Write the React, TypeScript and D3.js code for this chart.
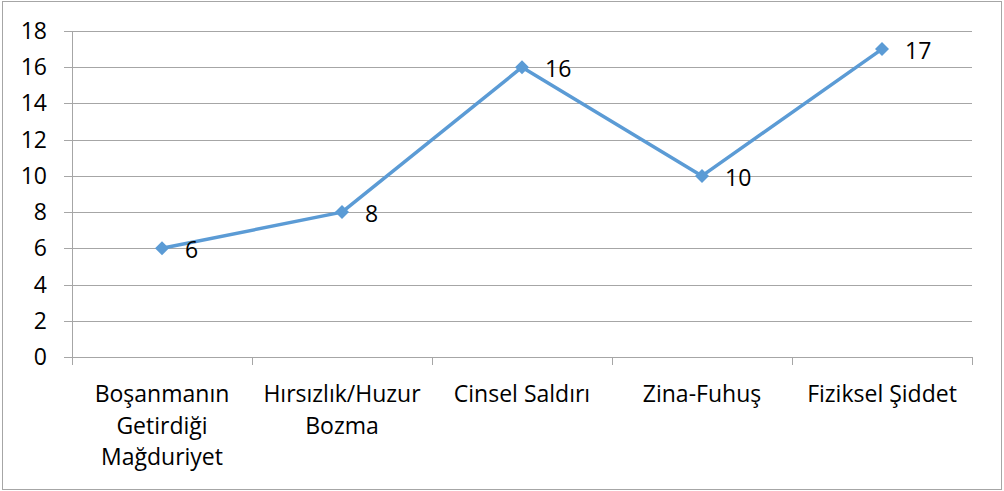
import React from "react";
import * as d3 from "d3";

const categories: string[][] = [
  ["Boşanmanın", "Getirdiği", "Mağduriyet"],
  ["Hırsızlık/Huzur", "Bozma"],
  ["Cinsel Saldırı"],
  ["Zina-Fuhuş"],
  ["Fiziksel Şiddet"],
];
const values: number[] = [6, 8, 16, 10, 17];
const yTicks: number[] = [0, 2, 4, 6, 8, 10, 12, 14, 16, 18];

const W = 1004;
const H = 491;
const FONT = "'Open Sans', sans-serif";
const FS = 23;

export default function App() {
  const left = 72, right = 972, top = 31, bottom = 357;
  const x = d3.scaleBand<number>().domain(values.map((_, i) => i)).range([left, right]).padding(0);
  const y = d3.scaleLinear().domain([0, 18]).range([bottom, top]);
  const cx = (i: number) => (x(i) as number) + x.bandwidth() / 2;
  const line = d3.line<number>().x((_, i) => cx(i)).y((d) => y(d));
  const grid = "#A6A6A6";
  const blue = "#5B9BD5";
  const s = 7;
  const diamond = `M0,${-s}L${s},0L0,${s}L${-s},0Z`;

  return (
    <svg width={W} height={H} style={{ position: "absolute", left: 0, top: 0, display: "block" }}>
      <rect x={0} y={0} width={W} height={H} fill="#fff" />
      <rect x={2.5} y={1.5} width={999} height={488} fill="none" stroke={grid} strokeWidth={1} />
      {yTicks.map((t) => (
        <g key={t}>
          <line x1={left - 8} x2={right} y1={Math.round(y(t)) + 0.5} y2={Math.round(y(t)) + 0.5} stroke={grid} strokeWidth={1} />
          <text x={47} y={y(t)} dy="0.35em" textAnchor="end" fontFamily={FONT} fontSize={FS} fill="#000">
            {t}
          </text>
        </g>
      ))}
      <line x1={left + 0.5} x2={left + 0.5} y1={top} y2={bottom + 8} stroke={grid} strokeWidth={1} />
      {values.map((_, i) => (
        <line key={i} x1={(x(i) as number) + x.bandwidth() + 0.5} x2={(x(i) as number) + x.bandwidth() + 0.5} y1={bottom} y2={bottom + 8} stroke={grid} strokeWidth={1} />
      ))}
      {categories.map((lines, i) => (
        <text key={i} x={cx(i)} y={402} textAnchor="middle" fontFamily={FONT} fontSize={FS} fill="#000">
          {lines.map((l, j) => (
            <tspan key={j} x={cx(i)} dy={j === 0 ? 0 : 31.5}>
              {l}
            </tspan>
          ))}
        </text>
      ))}
      <path d={line(values) as string} fill="none" stroke={blue} strokeWidth={3.5} strokeLinejoin="round" />
      {values.map((v, i) => (
        <path key={i} d={diamond} transform={`translate(${cx(i)},${y(v)})`} fill={blue} />
      ))}
      {values.map((v, i) => (
        <text key={i} x={cx(i) + 23} y={y(v) + 2} dy="0.35em" fontFamily={FONT} fontSize={FS} fill="#000">
          {v}
        </text>
      ))}
    </svg>
  );
}
